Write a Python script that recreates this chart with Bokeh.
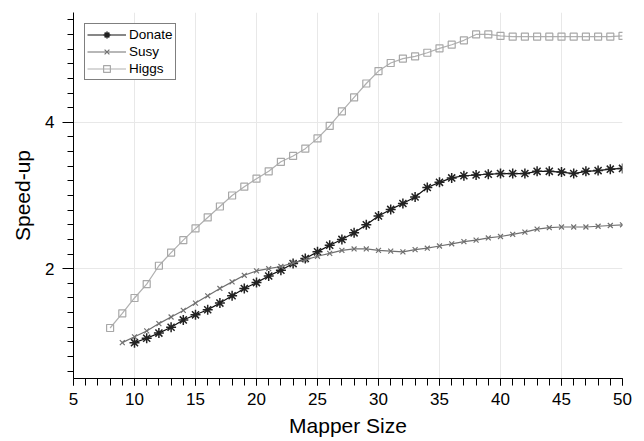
from bokeh.plotting import figure
from bokeh.models import SingleIntervalTicker, Range1d, Legend, LegendItem
from bokeh.embed import file_html
from bokeh.resources import INLINE

# ---- data ----
donate_x = list(range(10, 51))
donate_y = [0.99, 1.05, 1.12, 1.20, 1.30, 1.37, 1.44, 1.53, 1.63, 1.73,
            1.81, 1.90, 1.98, 2.07, 2.14, 2.23, 2.32, 2.40, 2.49, 2.60,
            2.72, 2.81, 2.89, 2.98, 3.11, 3.18, 3.24, 3.27, 3.28, 3.29,
            3.30, 3.30, 3.30, 3.33, 3.33, 3.32, 3.30, 3.33, 3.34, 3.36, 3.37]

susy_x = list(range(9, 51))
susy_y = [0.99, 1.07, 1.15, 1.25, 1.34, 1.43, 1.53, 1.63, 1.73, 1.82,
          1.91, 1.97, 2.00, 2.03, 2.08, 2.12, 2.17, 2.21, 2.25, 2.27,
          2.27, 2.25, 2.24, 2.23, 2.26, 2.28, 2.31, 2.34, 2.37, 2.39,
          2.42, 2.44, 2.47, 2.50, 2.54, 2.56, 2.57, 2.57, 2.57, 2.58,
          2.59, 2.60]

higgs_x = list(range(8, 51))
higgs_y = [1.19, 1.39, 1.60, 1.79, 2.04, 2.22, 2.39, 2.55, 2.70, 2.85,
           3.00, 3.12, 3.23, 3.33, 3.46, 3.54, 3.64, 3.78, 3.95, 4.15,
           4.34, 4.53, 4.70, 4.81, 4.87, 4.90, 4.95, 5.01, 5.06, 5.12,
           5.20, 5.20, 5.18, 5.17, 5.17, 5.17, 5.17, 5.17, 5.17, 5.17,
           5.17, 5.17, 5.18]

x_label = "Mapper Size"
y_label = "Speed-up"

FONT = "Liberation Sans"

p = figure(width=644, height=441, output_backend="svg", toolbar_location=None,
           x_range=Range1d(5, 50), y_range=Range1d(0.5, 5.5),
           min_border_left=73, min_border_right=22, min_border_top=12,
           min_border_bottom=63)
p.outline_line_color = None

# axes
p.xaxis.ticker = SingleIntervalTicker(interval=5, num_minor_ticks=5)
p.yaxis.ticker = SingleIntervalTicker(interval=2, num_minor_ticks=10)
p.xgrid.ticker = p.xaxis.ticker
p.ygrid.ticker = p.yaxis.ticker
p.xaxis.axis_label = x_label
p.yaxis.axis_label = y_label
for ax in (p.xaxis, p.yaxis):
    ax.axis_label_text_font = FONT
    ax.axis_label_text_font_style = "normal"
    ax.axis_label_text_font_size = "21px"
    ax.axis_label_text_color = "black"
    ax.major_label_text_font = FONT
    ax.major_label_text_font_size = "17px"
    ax.major_label_text_color = "black"
    ax.axis_line_color = "black"
    ax.major_tick_line_color = "black"
    ax.minor_tick_line_color = "black"
    ax.major_tick_in = 0
    ax.minor_tick_in = 0
p.xaxis.major_tick_out = 7
p.xaxis.minor_tick_out = 7
p.yaxis.major_tick_out = 11
p.yaxis.minor_tick_out = 6
p.xaxis.major_label_standoff = 7
p.xaxis.axis_label_standoff = 6
p.yaxis.major_label_standoff = 8
p.yaxis.axis_label_standoff = 8
p.grid.grid_line_color = "#e8e8e8"
p.grid.grid_line_width = 1

# series
r_d_l = p.line(donate_x, donate_y, line_color="#111111", line_width=1.2)
r_d_m = p.scatter(donate_x, donate_y, marker="asterisk", size=10,
                  line_color="#222222", line_width=1.5)
r_s_l = p.line(susy_x, susy_y, line_color="#707070", line_width=1.2)
r_s_m = p.scatter(susy_x, susy_y, marker="x", size=7,
                  line_color="#707070", line_width=1.2)
r_h_l = p.line(higgs_x, higgs_y, line_color="#b0b0b0", line_width=1.2)
r_h_m = p.scatter(higgs_x, higgs_y, marker="square", size=7, fill_color=None,
                  line_color="#a8a8a8", line_width=1.2)

legend = Legend(items=[
    LegendItem(label="Donate", renderers=[r_d_l, r_d_m]),
    LegendItem(label="Susy", renderers=[r_s_l, r_s_m]),
    LegendItem(label="Higgs", renderers=[r_h_l, r_h_m]),
], location="top_left")
legend.margin = 11
legend.padding = 2
legend.spacing = 0
legend.glyph_width = 39
legend.glyph_height = 17
legend.label_height = 17
legend.label_standoff = 3
legend.label_text_font = FONT
legend.label_text_font_size = "13.5px"
legend.label_text_color = "black"
legend.border_line_color = "black"
legend.border_line_width = 1
legend.background_fill_color = "white"
legend.background_fill_alpha = 1.0
p.add_layout(legend)

open("out.html", "w").write(file_html(p, INLINE))
